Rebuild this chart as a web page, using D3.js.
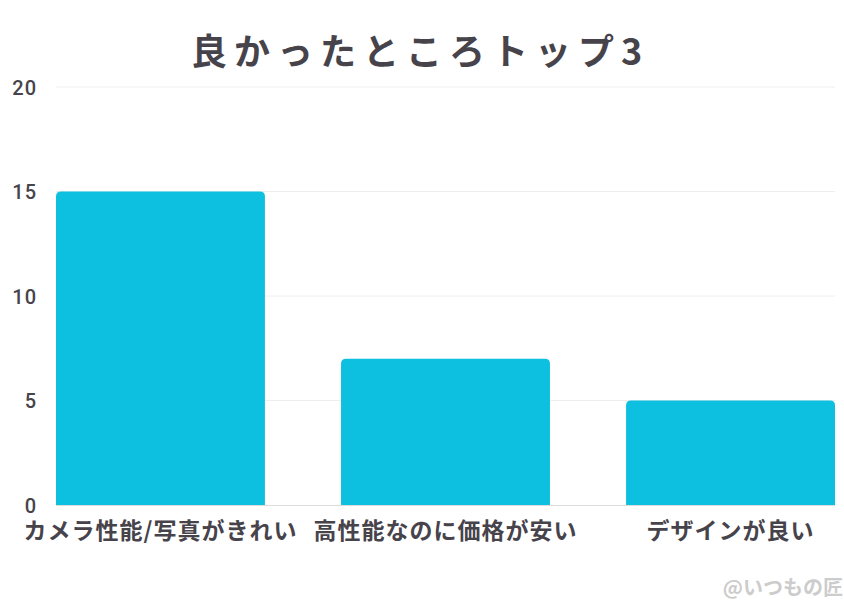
<!DOCTYPE html>
<html>
<head>
<meta charset="utf-8">
<script src="https://cdn.jsdelivr.net/npm/d3@7"></script>
<style>
  body { margin: 0; background: #fff; }
</style>
</head>
<body>
<div id="chart"></div>
<script>
const categories = ["カメラ性能/写真がきれい", "高性能なのに価格が安い", "デザインが良い"];
const values = [15, 7, 5];
const yTicks = [0, 5, 10, 15, 20];
const title = "良かったところトップ3";
const credit = "@いつもの匠";

let w = 844;
let h = 600;
let margin = { top: 87, right: 9, bottom: 95, left: 56 };

let svg = d3
  .select("#chart")
  .append("svg")
  .attr("width", w)
  .attr("height", h)
  .attr("font-family", "'Noto Sans CJK JP', 'Noto Sans', sans-serif");

let x = d3
  .scaleBand()
  .domain(categories)
  .range([margin.left, w - margin.right])
  .paddingInner(0.267)
  .paddingOuter(0);

let y = d3
  .scaleLinear()
  .domain([0, 20])
  .range([h - margin.bottom, margin.top]);

// gridlines
svg
  .append("g")
  .selectAll("line")
  .data(yTicks.filter(d => d > 0))
  .enter()
  .append("line")
  .attr("x1", margin.left)
  .attr("x2", w - margin.right)
  .attr("y1", d => y(d))
  .attr("y2", d => y(d))
  .attr("stroke", "#eeeeee")
  .attr("stroke-width", 1);

// y axis labels
let yAxis = d3.axisLeft(y).tickValues(yTicks).tickSize(0).tickPadding(0);
svg
  .append("g")
  .attr("transform", "translate(37,1)")
  .call(yAxis)
  .call(g => g.select(".domain").remove())
  .call(g => g.attr("font-family", null).attr("font-size", null))
  .selectAll("text")
  .attr("font-family", "Roboto, sans-serif")
  .attr("font-size", 20)
  .attr("font-weight", 500)
  .attr("letter-spacing", 1)
  .attr("fill", "#47434b");

// bars with rounded top corners
let r = 5;
svg
  .append("g")
  .selectAll("path")
  .data(values)
  .enter()
  .append("path")
  .attr("fill", "#0dc0df")
  .attr("d", function (d, i) {
    let x0 = x(categories[i]);
    let x1 = x0 + x.bandwidth();
    let y0 = y(0);
    let y1 = y(d);
    return `M${x0},${y0}V${y1 + r}Q${x0},${y1} ${x0 + r},${y1}H${x1 - r}Q${x1},${y1} ${x1},${y1 + r}V${y0}Z`;
  });

// baseline
svg
  .append("line")
  .attr("x1", margin.left)
  .attr("x2", w - margin.right)
  .attr("y1", y(0) + 0.5)
  .attr("y2", y(0) + 0.5)
  .attr("stroke", "#dddddd");

// category labels
let xAxis = d3.axisBottom(x).tickSize(0).tickPadding(0);
svg
  .append("g")
  .attr("transform", `translate(0,${y(0) + 18})`)
  .call(xAxis)
  .call(g => g.select(".domain").remove())
  .call(g => g.attr("font-family", null).attr("font-size", null))
  .selectAll("text")
  .attr("font-size", 23)
  .attr("font-weight", "bold")
  .attr("fill", "#47434b")
  .attr("letter-spacing", 1);

// title
svg
  .append("text")
  .attr("x", 420)
  .attr("y", 65)
  .attr("text-anchor", "middle")
  .attr("font-size", 36)
  .attr("font-weight", "bold")
  .attr("letter-spacing", 7)
  .attr("fill", "#47434b")
  .text(title);

// credit
svg
  .append("text")
  .attr("x", w - 1)
  .attr("y", 595)
  .attr("text-anchor", "end")
  .attr("font-size", 20)
  .attr("font-weight", "bold")
  .attr("fill", "#cccccc")
  .text(credit);
</script>
</body>
</html>
